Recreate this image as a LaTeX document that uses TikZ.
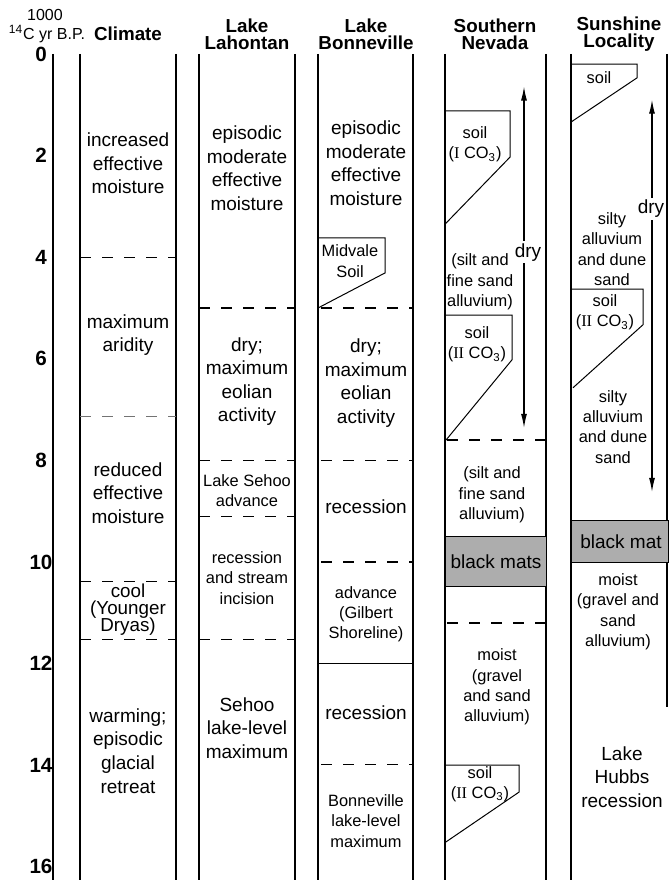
\documentclass[tikz,border=0pt]{standalone}
\usepackage{fontspec}
\setmainfont{Liberation Sans}
\newfontfamily\romfont{Liberation Serif}
\usetikzlibrary{arrows.meta}
\newcommand{\carb}{CO\textsubscript{3}}
\newcommand{\rn}[1]{{\romfont #1}}
\tikzset{
	lbl/.style={align=center,inner sep=0pt,font=\fontsize{9.5}{11.8}\selectfont},
	sml/.style={align=center,inner sep=0pt,font=\fontsize{8.2}{10.2}\selectfont},
	head/.style={align=center,inner sep=0pt,font=\bfseries\fontsize{9.4}{8.6}\selectfont},
	tick/.style={inner sep=0pt,font=\bfseries\fontsize{10.3}{12}\selectfont},
	brk/.style={line width=.6pt,dash pattern=on 5.5pt off 5.5pt},
	soilbox/.style={line width=.5pt},
	mat/.style={draw,line width=.5pt,fill=black!32},
	dryarrow/.style={line width=.6pt,{Latex[length=7pt,width=3pt]}-{Latex[length=7pt,width=3pt]}},
}

\begin{document}
\begin{tikzpicture}[x=.5pt,y=-25.4pt]
			\useasboundingbox (0,-1.063) rectangle (670,16.26);
			% axis and column lines
			\draw[line width=1pt] (53,0) -- (53,16.26);
			\foreach \x in {80,176,199,295,318,413,445,546,571} \draw[line width=.6pt] (\x,0) -- (\x,16.26);
			\draw[line width=.6pt] (667,0) -- (667,12.85);
			\foreach \t in {0,2,...,16} \node[tick] (tk\t) at (41,\t) {\t};
			% headings
			\node[font=\fontsize{8}{9}\selectfont,inner sep=0pt] (hthou) at (45,-.768) {1000};
			\node[font=\fontsize{8}{9}\selectfont,inner sep=0pt] (hunit) at (47,-.394) {\textsuperscript{14}C yr B.P.};
			\node[head] (hclim) at (128,-.394) {Climate};
			\node[head] (hlah) at (247,-.394) {Lake\\Lahontan};
			\node[head] (hbon) at (366,-.394) {Lake\\Bonneville};
			\node[head] (hnev) at (495,-.394) {Southern\\Nevada};
			\node[head] (hsun) at (619,-.394) {Sunshine\\Locality};
			% climate
			\node[lbl] (c1) at (128,2.15) {increased\\effective\\moisture};
			\node[lbl] (c2) at (128,5.53) {maximum\\aridity};
			\node[lbl] (c3) at (128,8.64) {reduced\\effective\\moisture};
			\node[lbl,font=\fontsize{9.4}{10}\selectfont] (c4) at (128,10.94) {cool\\[-1.5pt](Younger\\[-1.5pt]Dryas)};
			\node[lbl] (c5) at (128,13.72) {warming;\\episodic\\glacial\\retreat};
			\draw[brk] (80,4) -- (176,4);
			\draw[brk,draw=black!55] (80,7.13) -- (176,7.13);
			\draw[brk] (80,10.39) -- (176,10.39);
			\draw[brk] (80,11.52) -- (176,11.52);
			% lake lahontan
			\node[lbl] (l1) at (247,2.25) {episodic\\moderate\\effective\\moisture};
			\node[lbl] (l2) at (247,6.45) {dry;\\maximum\\eolian\\activity};
			\node[sml] (l3) at (247,8.6) {Lake Sehoo\\advance};
			\node[sml] (l4) at (247,10.31) {recession\\and stream\\incision};
			\node[lbl] (l5) at (247,13.27) {Sehoo\\lake-level\\maximum};
			\foreach \t in {5,8,9.11,11.52} \draw[brk] (199,\t) -- (295,\t);
			% lake bonneville
			\node[lbl] (b1) at (366,2.15) {episodic\\moderate\\effective\\moisture};
			\draw[soilbox] (318,3.62) -- (385,3.62) -- (385,4.31) -- (318,5);
			\node[sml] (bmid) at (350,4.08) {Midvale\\Soil};
			\node[lbl] (b2) at (366,6.48) {dry;\\maximum\\eolian\\activity};
			\node[lbl] (b3) at (366,8.92) {recession};
			\node[sml] (b4) at (366,11.03) {advance\\(Gilbert\\Shoreline)};
			\node[lbl] (b5) at (366,12.97) {recession};
			\node[sml] (b6) at (366,15.1) {Bonneville\\lake-level\\maximum};
			\foreach \t in {5,8,10,13.98} \draw[brk] (321,\t) -- (413,\t);
			\draw[line width=.6pt] (318,12) -- (413,12);
			% southern nevada
			\draw[soilbox] (445,1.12) -- (510,1.12) -- (510,2.03) -- (445,3.35);
			\node[sml] (ns1) at (475,1.78) {soil\\(\rn{I} \carb)};
			\node[sml] (n1) at (480,4.49) {(silt and\\fine sand\\alluvium)};
			\draw[soilbox] (445,5.14) -- (512,5.14) -- (512,6.02) -- (446,7.6);
			\node[sml] (ns2) at (477,5.71) {soil\\(\rn{II} \carb)};
			\draw[brk] (447,7.6) -- (546,7.6);
			\node[sml] (n2) at (492,8.68) {(silt and\\fine sand\\alluvium)};
			\draw[mat] (445,9.49) rectangle (546,10.49);
			\node[lbl] (nmat) at (496,9.99) {black mats};
			\draw[brk] (447,11.2) -- (546,11.2);
			\node[sml] (n3) at (497,12.46) {moist\\(gravel\\and sand\\alluvium)};
			\draw[soilbox] (445,14) -- (519,14) -- (519,14.53) -- (446,15.51);
			\node[sml] (ns3) at (480,14.37) {soil\\(\rn{II} \carb)};
			\path
			(524,.64) coordinate (nvtop)
			(524,7.36) coordinate (nvbot)
			(652,.9) coordinate (sntop)
			(652,8.62) coordinate (snbot)
			;
			\draw[dryarrow] (nvtop) -- (nvbot);
			\node[lbl,fill=white,inner sep=1pt] (ndry) at (528,3.9) {dry};
			% sunshine locality
			\draw[soilbox] (571,.2) -- (637,.2) -- (637,.47) -- (571,1.34);
			\node[sml] (ss1) at (599,.47) {soil};
			\draw[dryarrow] (sntop) -- (snbot);
			\node[lbl,fill=white,inner sep=1pt] (sdry) at (651,3.05) {dry};
			\node[sml] (s1) at (612,3.84) {silty\\alluvium\\and dune\\sand};
			\draw[soilbox] (571,4.63) -- (643,4.63) -- (643,5.33) -- (573,6.57);
			\node[sml] (ss2) at (605,5.08) {soil\\(\rn{II} \carb)};
			\node[sml] (s2) at (613,7.34) {silty\\alluvium\\and dune\\sand};
			\draw[mat] (571,9.19) rectangle (668,10);
			\node[lbl] (smat) at (621,9.6) {black mat};
			\node[sml] (s3) at (618,10.98) {moist\\(gravel and\\sand\\alluvium)};
			\node[lbl] (s4) at (622,14.23) {Lake\\Hubbs\\recession};
		\end{tikzpicture}
\end{document}
